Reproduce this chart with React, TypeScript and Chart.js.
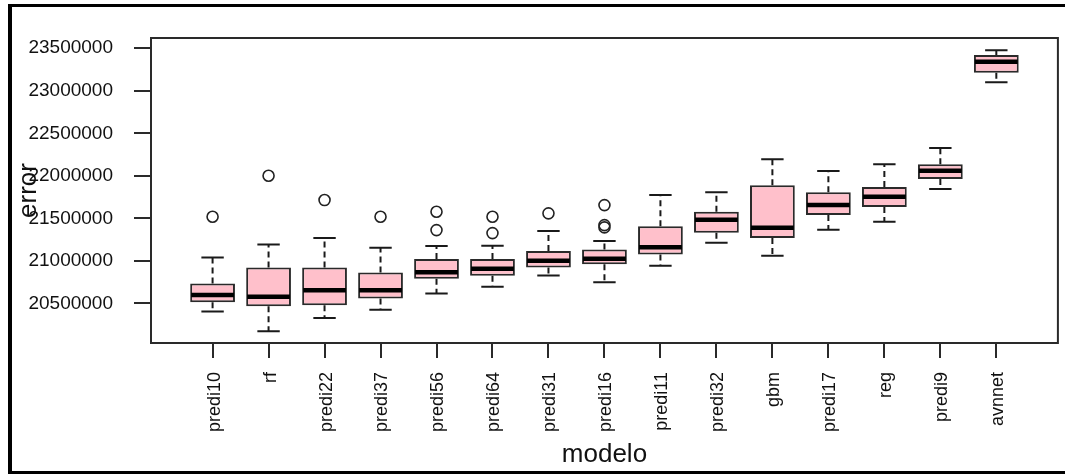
import React, { useEffect, useRef } from "react";
import { Chart, registerables } from "chart.js";

Chart.register(...registerables);

const categories = [
  "predi10", "rf", "predi22", "predi37", "predi56", "predi64", "predi31", "predi16",
  "predi11", "predi32", "gbm", "predi17", "reg", "predi9", "avnnet",
];
const whiskerLow = [20406000, 20174000, 20330000, 20425000, 20618000, 20695000, 20829000, 20750000, 20942000, 21213000, 21060000, 21366000, 21460000, 21845000, 23100000];
const q1 = [20515000, 20468000, 20480000, 20559000, 20789000, 20825000, 20923000, 20962000, 21076000, 21330000, 21268000, 21539000, 21633000, 21962000, 23213000];
const median = [20598000, 20578000, 20656000, 20656000, 20868000, 20907000, 21001000, 21025000, 21159000, 21483000, 21389000, 21656000, 21754000, 22060000, 23342000];
const q3 = [20735000, 20923000, 20923000, 20865000, 21021000, 21021000, 21115000, 21135000, 21406000, 21578000, 21888000, 21806000, 21868000, 22135000, 23421000];
const whiskerHigh = [21041000, 21194000, 21268000, 21154000, 21174000, 21178000, 21350000, 21233000, 21774000, 21806000, 22194000, 22056000, 22135000, 22327000, 23476000];
// outliers: [category index, value]
const outliers: [number, number][] = [
  [0, 21519000], [1, 22001000], [2, 21715000], [3, 21519000],
  [4, 21578000], [4, 21362000], [5, 21519000], [5, 21327000],
  [6, 21559000], [7, 21656000], [7, 21421000], [7, 21394000],
];
const yTicks = [20500000, 21000000, 21500000, 22000000, 22500000, 23000000, 23500000];

const FONT = "'Liberation Sans', Arial, sans-serif";
const INK = "#2a2a2a";

const boxExtras = {
  id: "boxExtras",
  afterDatasetsDraw(chart: any) {
    const { ctx, scales } = chart;
    const xs = scales.x;
    const ys = scales.y;
    const meta = chart.getDatasetMeta(0);
    ctx.save();
    categories.forEach((_, i) => {
      const bar = meta.data[i] as any;
      const cx = xs.getPixelForValue(i + 1);
      const w = bar ? bar.width : 44;
      const yLo = ys.getPixelForValue(whiskerLow[i]);
      const yQ1 = ys.getPixelForValue(q1[i]);
      const yQ3 = ys.getPixelForValue(q3[i]);
      const yHi = ys.getPixelForValue(whiskerHigh[i]);
      const yMed = ys.getPixelForValue(median[i]);
      // whiskers (dashed)
      ctx.strokeStyle = "#1a1a1a";
      ctx.lineWidth = 2;
      ctx.setLineDash([6, 4]);
      ctx.beginPath();
      ctx.moveTo(cx, yQ3);
      ctx.lineTo(cx, yHi);
      ctx.moveTo(cx, yQ1);
      ctx.lineTo(cx, yLo);
      ctx.stroke();
      // staples
      ctx.setLineDash([]);
      ctx.beginPath();
      ctx.moveTo(cx - w / 4, yHi);
      ctx.lineTo(cx + w / 4, yHi);
      ctx.moveTo(cx - w / 4, yLo);
      ctx.lineTo(cx + w / 4, yLo);
      ctx.stroke();
      // median
      ctx.strokeStyle = "#000";
      ctx.lineWidth = 4.5;
      ctx.beginPath();
      ctx.moveTo(cx - w / 2 + 1, yMed);
      ctx.lineTo(cx + w / 2 - 1, yMed);
      ctx.stroke();
    });
    // plot frame
    const a = chart.chartArea;
    ctx.strokeStyle = INK;
    ctx.lineWidth = 2;
    ctx.strokeRect(a.left, a.top, a.right - a.left, a.bottom - a.top);
    ctx.restore();
  },
};

export default function App() {
  const ref = useRef<HTMLCanvasElement | null>(null);
  useEffect(() => {
    if (!ref.current) return;
    const chart = new Chart(ref.current, {
      type: "bar",
      data: {
        datasets: [
          {
            type: "bar",
            data: categories.map((_, i) => ({ x: i + 1, y: [q1[i], q3[i]] })) as any,
            backgroundColor: "#FFC0CB",
            borderColor: INK,
            borderWidth: 2,
            borderSkipped: false,
            barPercentage: 0.8,
            categoryPercentage: 1,
            grouped: false,
            order: 2,
          } as any,
          {
            type: "scatter",
            data: outliers.map(([i, v]) => ({ x: i + 1, y: v })),
            pointStyle: "circle",
            pointRadius: 5.5,
            pointBorderWidth: 1.6,
            pointBorderColor: "#222",
            pointBackgroundColor: "rgba(0,0,0,0)",
            order: 1,
          } as any,
        ],
      },
      options: {
        responsive: false,
        animation: false,
        layout: { padding: { left: 0, top: 38, right: 7, bottom: 0 } },
        plugins: { legend: { display: false }, tooltip: { enabled: false } },
        scales: {
          x: {
            type: "linear",
            min: -0.1,
            max: 16.1,
            offset: false,
            afterBuildTicks: (s: any) => {
              s.ticks = categories.map((_, i) => ({ value: i + 1 }));
            },
            afterFit: (s: any) => {
              s.height = 132;
            },
            ticks: {
              autoSkip: false,
              minRotation: 90,
              maxRotation: 90,
              padding: 14,
              labelOffset: 2,
              color: "#111",
              font: { family: FONT, size: 18 },
              callback: (v: any) => categories[Number(v) - 1] ?? "",
            },
            grid: { offset: false, drawOnChartArea: false, drawTicks: true, tickLength: 15, color: INK, lineWidth: 2 },
            border: { display: false },
            title: {
              display: true,
              text: "modelo",
              color: "#111",
              font: { family: FONT, size: 26 },
              padding: { top: 0, bottom: 5 },
            },
          },
          y: {
            type: "linear",
            min: 20035000,
            max: 23620000,
            afterBuildTicks: (s: any) => {
              s.ticks = yTicks.map((v) => ({ value: v }));
            },
            afterFit: (s: any) => {
              s.width = 151;
            },
            ticks: {
              padding: 21,
              color: "#111",
              font: { family: FONT, size: 19 },
              callback: (v: any) => String(v),
            },
            grid: { drawOnChartArea: false, drawTicks: true, tickLength: 17, color: INK, lineWidth: 2 },
            border: { display: false },
            title: {
              display: true,
              text: "error",
              color: "#111",
              font: { family: FONT, size: 26 },
              padding: { top: 13, bottom: 0 },
            },
          },
        },
      },
      plugins: [boxExtras],
    });
    return () => chart.destroy();
  }, []);

  return (
    <div style={{ position: "fixed", left: 0, top: 0, width: 1065, height: 475, overflow: "hidden", background: "#fff" }}>
      <div
        style={{
          position: "absolute",
          left: 8,
          top: 4,
          width: 1100,
          height: 464,
          borderLeft: "4px solid #000",
          borderTop: "3px solid #000",
          borderBottom: "3px solid #000",
        }}
      />
      <canvas ref={ref} width={1065} height={475} style={{ position: "absolute", left: 0, top: 0 }} />
    </div>
  );
}
